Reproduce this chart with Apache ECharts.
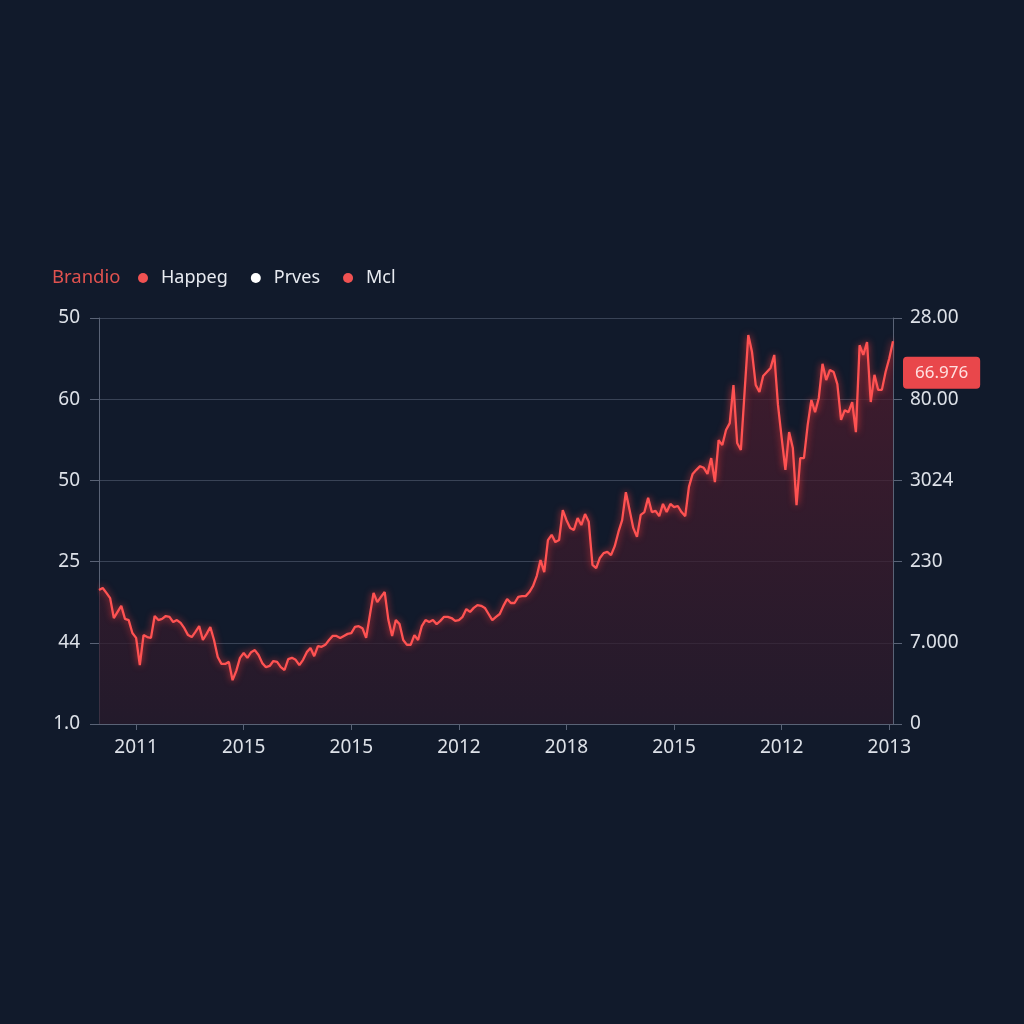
<!DOCTYPE html>
<html>
<head>
<meta charset="utf-8">
<style>
html,body{margin:0;padding:0;background:#111a2b;}
#chart{width:1024px;height:1024px;}
</style>
<script src="https://cdn.jsdelivr.net/npm/echarts@6/dist/echarts.min.js"></script>
</head>
<body>
<div id="chart"></div>
<script>
// ---- data ----
const seriesValues = [
33.0,33.5,32.3,31.0,26.1,27.6,29.1,25.9,25.6,22.4,
21.2,14.5,21.9,21.4,21.2,26.6,25.6,25.9,26.6,26.4,
25.1,25.6,24.9,23.6,21.9,21.4,22.7,24.1,20.7,22.2,
23.9,20.7,16.5,14.8,14.8,15.3,10.8,13.1,16.3,17.5,
16.3,17.7,18.2,17.0,15.0,14.0,14.3,15.5,15.3,14.0,
13.3,16.0,16.3,15.8,14.5,15.8,17.7,18.7,16.7,19.2,
19.0,19.5,20.7,21.7,21.7,21.2,21.7,22.2,22.4,23.9,
24.1,23.6,21.2,26.8,32.3,30.0,31.3,32.5,25.6,21.7,
25.6,24.6,20.7,19.5,19.5,21.9,20.7,24.1,25.6,25.1,
25.6,24.6,25.4,26.4,26.4,26.1,25.4,25.6,26.4,28.3,
27.6,28.6,29.3,29.1,28.6,27.1,25.6,26.4,27.1,29.1,
30.8,29.8,29.8,31.3,31.5,31.5,32.5,34.0,36.5,40.4,
37.4,45.3,46.6,44.8,45.3,52.7,50.2,48.3,47.8,50.7,
49.0,51.7,49.8,39.2,38.4,40.9,42.1,42.4,41.6,43.8,
47.3,50.2,57.1,52.7,48.3,46.1,51.5,52.2,55.7,52.2,
52.5,51.2,54.2,52.2,54.2,53.4,53.7,52.2,51.2,58.4,
61.6,62.6,63.5,63.1,61.6,65.5,59.6,69.9,68.7,72.4,
74.1,83.5,69.2,67.5,81.8,95.8,91.6,83.5,81.8,85.7,
86.7,87.7,90.9,78.6,70.4,62.6,71.9,68.0,53.9,65.5,
65.5,73.6,79.8,76.8,80.3,88.7,84.7,87.2,86.7,83.7,
74.9,77.3,76.8,79.3,71.9,93.3,90.9,94.1,79.3,86.0,
82.3,82.3,86.7,90.1,94.3
];
const categories = seriesValues.map((_, i) => String(i));
const xTickLabels = ['2011','2015','2015','2012','2018','2015','2012','2013'];
const xTickStart = 10;
const xTickStep = 29;
const leftTickLabels = ['1.0','44','25','50','60','50'];
const rightTickLabels = ['0','7.000','230','3024','80.00','28.00'];
const legendNames = ['Happeg','Prves','Mcl'];
const legendColors = ['#f05252','#ffffff','#f05252'];
const titleText = 'Brandio';
const badgeValue = 86.5;
const badgeText = '66.976';

// ---- chart ----
const chart = echarts.init(document.getElementById('chart'));
const FONT = 'Noto Sans';
const isTick = (i) => i >= xTickStart && (i - xTickStart) % xTickStep === 0;

const dummySeries = legendNames.map((n, k) => ({
  name: n, type: 'line', data: [], symbol: 'circle',
  itemStyle: { color: legendColors[k] }, lineStyle: { color: legendColors[k] }
}));

const yAxisBase = {
  type: 'value', min: 0, max: 100, interval: 20,
  axisLine: { show: true, lineStyle: { color: '#5a6376', width: 1 } },
  axisTick: { show: true, length: 9, lineStyle: { color: '#5a6376' } },
  splitLine: { show: true, lineStyle: { color: '#394356', width: 1 } }
};

chart.setOption({
  backgroundColor: '#111a2b',
  animation: false,
  textStyle: { fontFamily: FONT },
  title: {
    text: titleText, left: 47, top: 263,
    textStyle: { color: '#e0524f', fontSize: 18.5, fontWeight: 'normal', fontFamily: FONT }
  },
  legend: {
    left: 133, top: 264, icon: 'circle', itemWidth: 10, itemHeight: 10, itemGap: 23,
    data: legendNames,
    textStyle: { color: '#e8ebf1', fontSize: 18, fontFamily: FONT, padding: [0, 0, 0, 8] }
  },
  grid: { left: 99, right: 131, top: 318, bottom: 300 },
  xAxis: {
    type: 'category', data: categories, boundaryGap: false,
    axisLine: { show: true, lineStyle: { color: '#5a6376', width: 1 } },
    axisTick: { show: true, interval: (i) => isTick(i), length: 6, lineStyle: { color: '#5a6376' } },
    axisLabel: {
      interval: (i) => isTick(i),
      formatter: (v, i) => xTickLabels[(i - xTickStart) / xTickStep] || '',
      color: '#dde1e8', fontSize: 19, margin: 14, fontFamily: FONT
    },
    splitLine: { show: false }
  },
  yAxis: [
    Object.assign({}, yAxisBase, {
      position: 'left',
      axisLabel: {
        color: '#dde1e8', fontSize: 19, margin: 19, fontFamily: FONT,
        formatter: (v) => leftTickLabels[Math.round(v / 20)]
      }
    }),
    Object.assign({}, yAxisBase, {
      position: 'right',
      splitLine: { show: false },
      axisLabel: {
        color: '#dde1e8', fontSize: 19, margin: 17, fontFamily: FONT,
        formatter: (v) => rightTickLabels[Math.round(v / 20)]
      }
    })
  ],
  series: [{
    name: titleText, type: 'line', data: seriesValues, symbol: 'none', clip: false,
    lineStyle: { color: '#ff5252', width: 2.3, shadowColor: 'rgba(255,60,60,0.8)', shadowBlur: 7 },
    areaStyle: {
      color: new echarts.graphic.LinearGradient(0, 0, 0, 1, [
        { offset: 0, color: '#541c2e' },
        { offset: 1, color: '#2b1a2b' }
      ])
    },
    markLine: {
      silent: true, symbol: ['none', 'none'],
      lineStyle: { color: 'rgba(0,0,0,0)', width: 0, type: 'solid' },
      data: [{ yAxis: badgeValue }],
      label: {
        show: true, position: 'end', distance: 10, opacity: 1,
        formatter: badgeText,
        backgroundColor: '#e9474b', color: '#ffe0e0',
        fontSize: 17, fontFamily: FONT,
        padding: [8, 12, 7, 12], borderRadius: 4
      }
    }
  }].concat(dummySeries)
});
</script>
</body>
</html>
